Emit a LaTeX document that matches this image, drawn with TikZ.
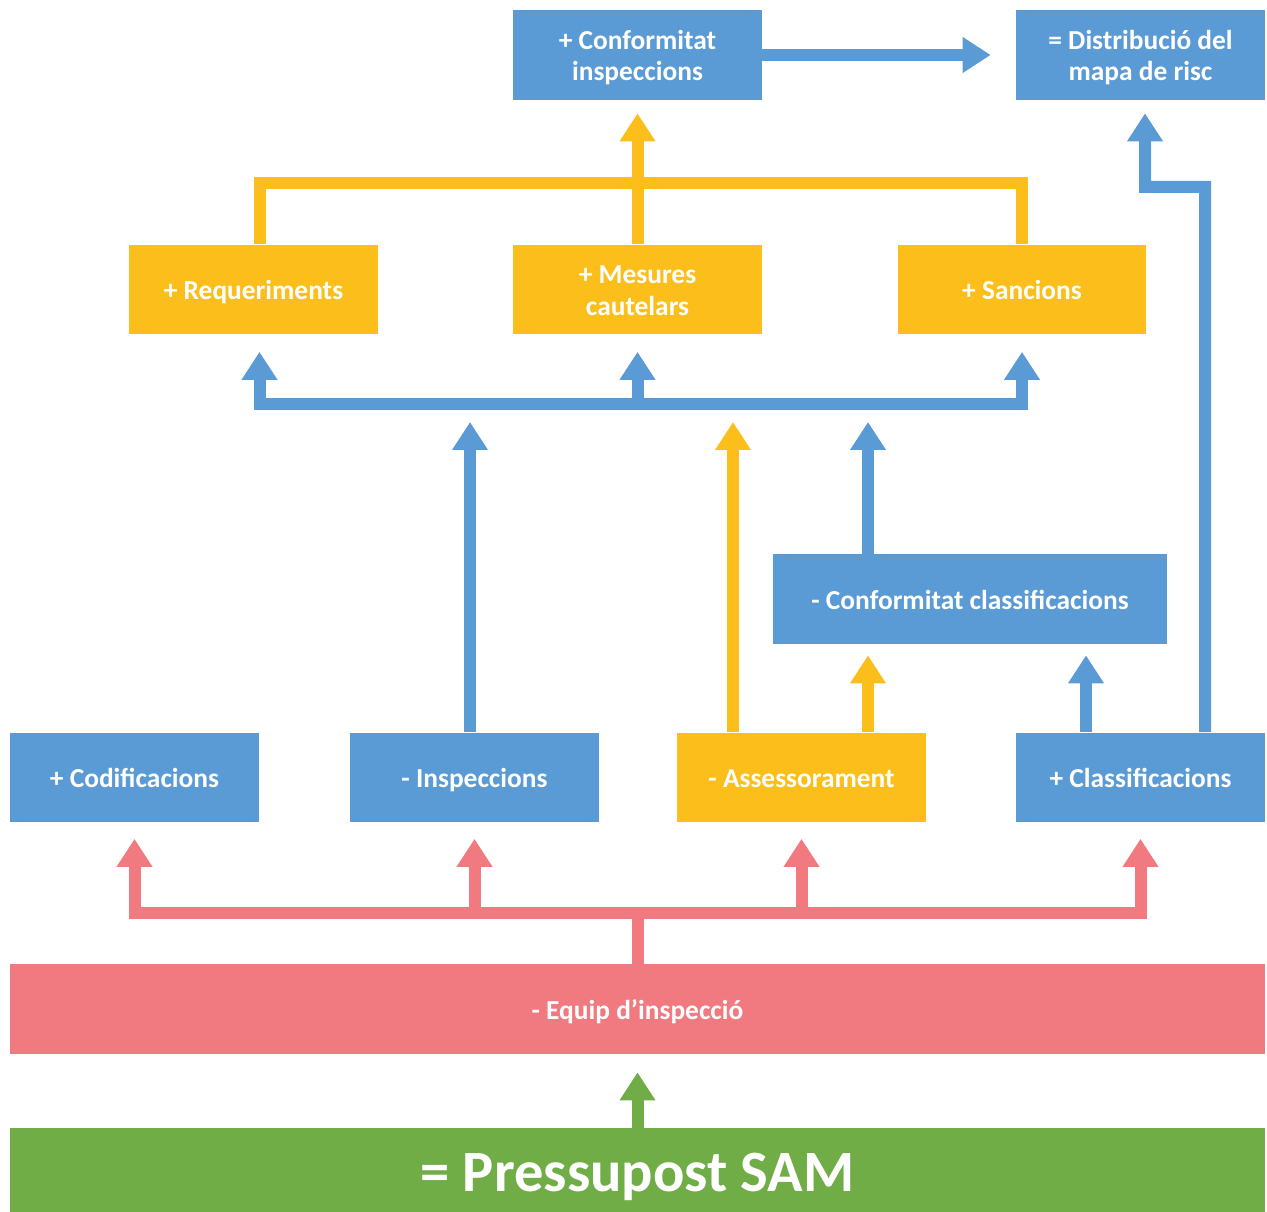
\documentclass[tikz,border=0pt]{standalone}
\usepackage{fontspec}
\setmainfont{Carlito}
\usetikzlibrary{arrows.meta}
\definecolor{boxblue}{RGB}{91,155,213}
\definecolor{boxyellow}{RGB}{251,190,26}
\definecolor{boxred}{RGB}{240,122,128}
\definecolor{boxgreen}{RGB}{112,173,71}
\begin{document}
\begin{tikzpicture}[x=0.02cm, y=-0.02cm, line join=miter,
  box/.style={minimum width=4.98cm, minimum height=1.8cm, inner sep=0pt, text=white, align=center, font=\fontsize{15.6}{18.1}\selectfont\bfseries, text height=11.8pt, text depth=0pt},
  twoline/.style={text height=29.5pt, text depth=0pt},
  link/.style={line width=0.24cm},
  >={Triangle[width=0.68cm, length=0.56cm]}]
\useasboundingbox (0,0) rectangle (1267,1212);
\node[box, twoline, fill=boxblue] (ci) at (637.5,55) {+ Conformitat\\inspeccions};
\node[box, twoline, fill=boxblue] (dm) at (1140.5,55) {= Distribució del\\mapa de risc};
\node[box, fill=boxyellow] (req) at (253.5,289.5) {+ Requeriments};
\node[box, twoline, fill=boxyellow] (mes) at (637.5,289.5) {+ Mesures\\cautelars};
\node[box, fill=boxyellow] (san) at (1022,289.5) {+ Sancions};
\node[box, fill=boxblue, minimum width=7.88cm] (cc) at (970,599) {- Conformitat classificacions};
\node[box, fill=boxblue] (cod) at (134.5,777.5) {+ Codificacions};
\node[box, fill=boxblue] (insp) at (474.5,777.5) {- Inspeccions};
\node[box, fill=boxyellow] (ass) at (801.5,777.5) {- Assessorament};
\node[box, fill=boxblue] (cla) at (1140.5,777.5) {+ Classificacions};
\node[box, fill=boxred, minimum width=25.1cm] (eq) at (637.5,1009) {- Equip d’inspecció};
\node[box, fill=boxgreen, minimum width=25.1cm, minimum height=1.94cm, font=\fontsize{33.3}{40}\selectfont\bfseries, text height=, text depth=] (pre) at (637.5,1176.5) {= Pressupost SAM};
\coordinate (ytop) at (637.5,183);
\coordinate (bbus) at (637.5,404);
\coordinate (rbus) at (637.5,913);
\coordinate (dmturn) at (1145,187);
\draw[link, boxblue, ->, shorten >=0.5cm] (ci) -- (dm);
\draw[link, boxyellow] ([xshift=0.12cm]req.north) |- (ytop) -| (san.north);
\draw[link, boxyellow, ->, shorten >=0.26cm] (mes.north) -- (ci.south);
\draw[link, boxblue, ->, shorten >=0.34cm] (bbus) -| ([xshift=0.12cm]req.south);
\draw[link, boxblue, ->, shorten >=0.34cm] (bbus) -- (mes.south);
\draw[link, boxblue, ->, shorten >=0.34cm] (bbus) -| (san.south);
\draw[link, boxblue, ->, shorten >=0.36cm] ([xshift=-0.09cm]insp.north) -- ([xshift=-0.09cm]insp.north |- bbus);
\draw[link, boxyellow, ->, shorten >=0.36cm] ([xshift=-1.37cm]ass.north) -- ([xshift=-1.37cm]ass.north |- bbus);
\draw[link, boxblue, ->, shorten >=0.36cm] ([xshift=-2.04cm]cc.north) -- ([xshift=-2.04cm]cc.north |- bbus);
\draw[link, boxyellow, ->, shorten >=0.22cm] ([xshift=1.33cm]ass.north) -- ([xshift=1.33cm]ass.north |- cc.south);
\draw[link, boxblue, ->, shorten >=0.22cm] ([xshift=-1.09cm]cla.north) -- ([xshift=-1.09cm]cla.north |- cc.south);
\draw[link, boxblue, ->, shorten >=0.26cm] ([xshift=1.29cm]cla.north) |- (dmturn) -- ([xshift=0.09cm]dm.south);
\draw[link, boxred] (eq.north) -- (rbus);
\draw[link, boxred, ->, shorten >=0.32cm] (rbus) -| (cod.south);
\draw[link, boxred, ->, shorten >=0.32cm] (rbus) -| (insp.south);
\draw[link, boxred, ->, shorten >=0.32cm] (rbus) -| (ass.south);
\draw[link, boxred, ->, shorten >=0.32cm] (rbus) -| (cla.south);
\draw[link, boxgreen, ->, shorten >=0.36cm] (pre.north) -- (eq.south);
\end{tikzpicture}
\end{document}
